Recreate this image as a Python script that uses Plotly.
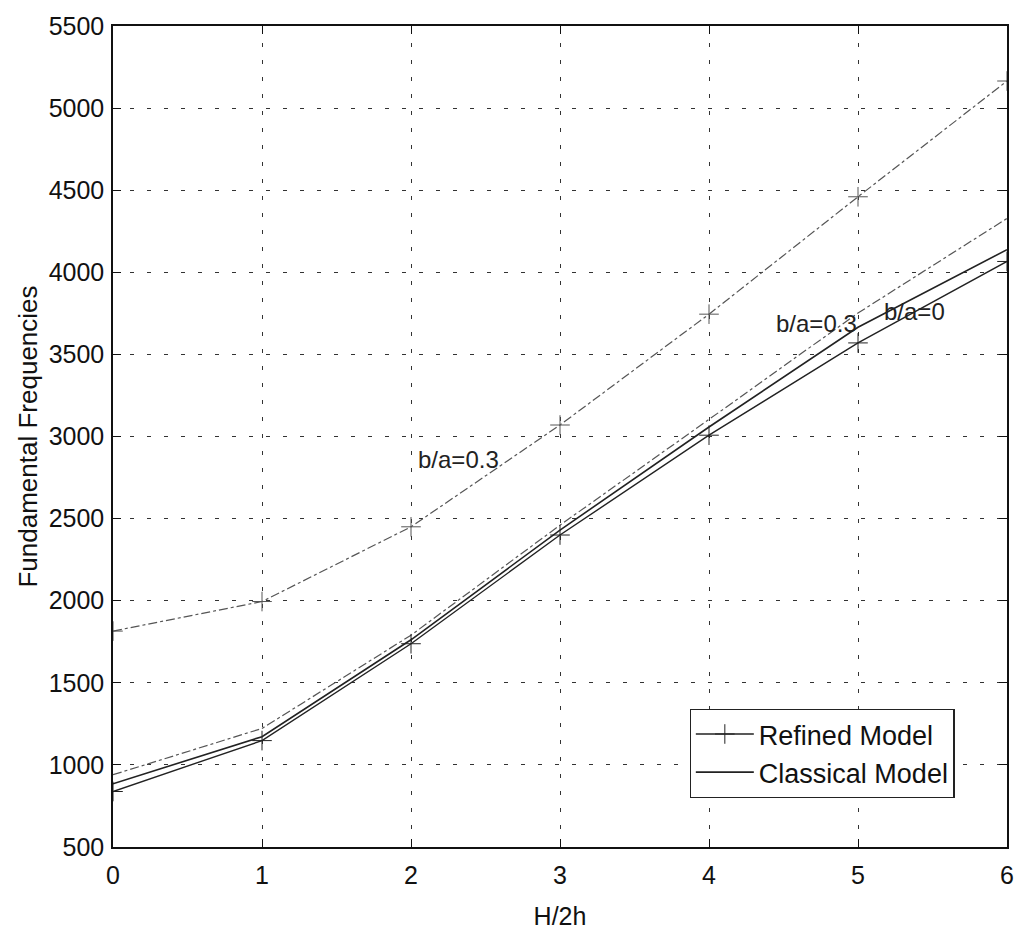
import plotly.graph_objects as go

# H/2h ratios
h_ratio = [0, 1, 2, 3, 4, 5, 6]

# Fundamental frequencies for each model / cut-out ratio
refined_b03 = [1815, 1995, 2450, 3070, 3745, 4460, 5165]
classical_b03 = [940, 1222, 1790, 2460, 3104, 3752, 4328]
classical_b0 = [885, 1172, 1762, 2430, 3058, 3665, 4138]
refined_b0 = [838, 1148, 1738, 2400, 3008, 3570, 4066]

y_ticks = [500, 1000, 1500, 2000, 2500, 3000, 3500, 4000, 4500, 5000, 5500]

FONT = "'Liberation Sans', Arial, sans-serif"
DARK = "#222222"
MID = "#555555"

fig = go.Figure()

fig.add_trace(go.Scatter(
    x=h_ratio, y=refined_b03, mode="lines+markers", showlegend=False,
    line=dict(color=MID, width=1.2, dash="dashdot"),
    marker=dict(symbol="cross-thin", size=14, line=dict(color=MID, width=1)),
))
fig.add_trace(go.Scatter(
    x=h_ratio, y=classical_b03, mode="lines", showlegend=False,
    line=dict(color=MID, width=1.2, dash="dashdot"),
))
fig.add_trace(go.Scatter(
    x=h_ratio, y=refined_b0, mode="lines+markers", name="Refined Model",
    line=dict(color=DARK, width=1.4),
    marker=dict(symbol="cross-thin", size=14, line=dict(color=DARK, width=1)),
))
fig.add_trace(go.Scatter(
    x=h_ratio, y=classical_b0, mode="lines", name="Classical Model",
    line=dict(color=DARK, width=1.6),
))

# Curve labels
labels = [
    (2.32, 2857, "b/a=0.3"),
    (4.72, 3691, "b/a=0.3"),
    (5.38, 3764, "b/a=0"),
]
for lx, ly, txt in labels:
    fig.add_annotation(x=lx, y=ly, text=txt, showarrow=False,
                       font=dict(family=FONT, size=24, color="#222"),
                       xanchor="center", yanchor="middle")

axis_common = dict(
    showline=True, linecolor="#111", linewidth=1.5, mirror="ticks",
    ticks="inside", ticklen=8, tickcolor="#111", tickwidth=1.2,
    showgrid=True, gridcolor="#333", gridwidth=1.2, griddash="4px,13px",
    zeroline=False, automargin=False,
    tickfont=dict(family=FONT, size=25, color="#111"),
)

fig.update_xaxes(
    range=[0, 6], tickvals=h_ratio, ticktext=[str(v) for v in h_ratio],
    ticklabelstandoff=5,
    title=dict(text="H/2h", font=dict(family=FONT, size=25, color="#111"), standoff=20),
    **axis_common,
)
fig.update_yaxes(
    range=[500, 5500], tickvals=y_ticks, ticktext=[str(v) for v in y_ticks],
    ticklabelstandoff=2,
    title=dict(text="Fundamental Frequencies", font=dict(family=FONT, size=26, color="#111"), standoff=4),
    **axis_common,
)

fig.update_layout(
    width=1018, height=931,
    margin=dict(l=113, r=11, t=26, b=84),
    paper_bgcolor="white", plot_bgcolor="white",
    font=dict(family=FONT, color="#111"),
    legend=dict(
        x=0.645, y=0.06, xanchor="left", yanchor="bottom",
        bgcolor="white", bordercolor="#222", borderwidth=1.2,
        font=dict(family=FONT, size=27, color="#111"),
        itemwidth=58, tracegroupgap=0,
    ),
)

fig.write_html("out.html")
